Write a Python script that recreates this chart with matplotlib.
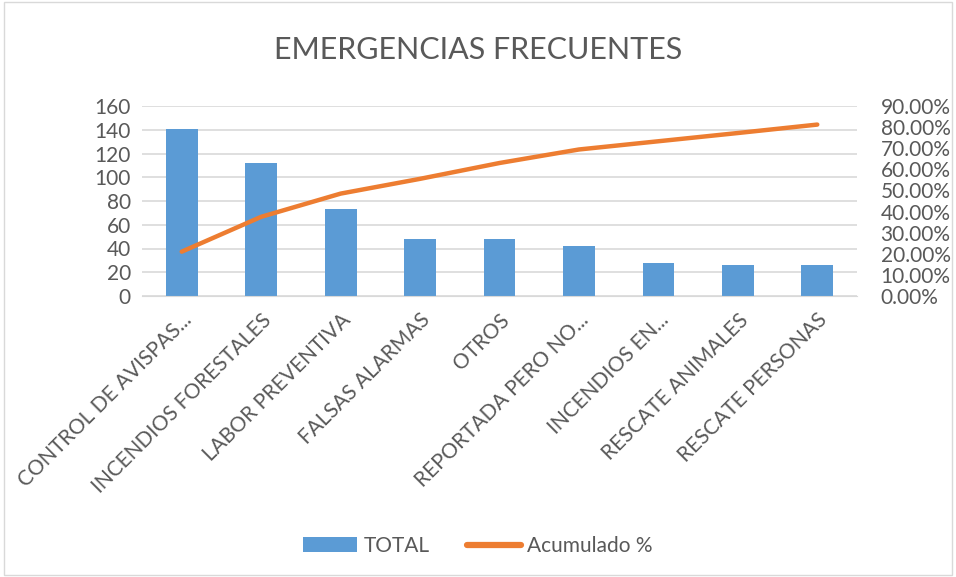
import matplotlib.pyplot as plt
from matplotlib.ticker import FuncFormatter, MultipleLocator
from matplotlib.patches import Rectangle

categorias = ['CONTROL DE AVISPAS...', 'INCENDIOS FORESTALES', 'LABOR PREVENTIVA',
              'FALSAS ALARMAS', 'OTROS', 'REPORTADA PERO NO...', 'INCENDIOS EN...',
              'RESCATE ANIMALES', 'RESCATE PERSONAS']
total = [141, 112, 73, 48, 48, 42, 28, 26, 26]
acumulado = [0.210, 0.375, 0.485, 0.555, 0.630, 0.694, 0.733, 0.772, 0.812]

plt.rcParams['font.family'] = ['Lato', 'DejaVu Sans']
gris = '#595959'
azul = '#5B9BD5'
naranja = '#ED7D31'

fig = plt.figure(figsize=(9.56, 5.77), dpi=100)
ax = fig.add_axes([142 / 956, 1 - 296 / 577, 715 / 956, 190 / 577])

x = range(len(categorias))
ax.bar(x, total, width=0.4, color=azul, label='TOTAL', zorder=2)
ax.set_xlim(-0.5, len(categorias) - 0.5)
ax.set_ylim(0, 160)
ax.yaxis.set_major_locator(MultipleLocator(20))
ax.grid(axis='y', color='#D9D9D9', linewidth=1.2, zorder=0)
ax.set_xticks(list(x))
ax.set_xticklabels(categorias, rotation=45, ha='right', rotation_mode='anchor',
                   fontsize=15, color=gris)
ax.tick_params(axis='both', length=0, colors=gris, labelsize=15)
ax.tick_params(axis='x', pad=10)
ax.tick_params(axis='y', pad=8)
for s in ax.spines.values():
    s.set_visible(False)
ax.spines['bottom'].set_visible(True)
ax.spines['bottom'].set_color('#D9D9D9')

ax2 = ax.twinx()
ax2.plot(x, acumulado, color=naranja, linewidth=3.2, solid_capstyle='round',
         label='Acumulado %', zorder=3)
ax2.set_ylim(0, 0.9)
ax2.yaxis.set_major_locator(MultipleLocator(0.1))
ax2.yaxis.set_major_formatter(FuncFormatter(lambda v, p: f'{v * 100:.2f}%'))
ax2.tick_params(axis='y', length=0, colors=gris, labelsize=15, pad=17)
for s in ax2.spines.values():
    s.set_visible(False)

fig.text(0.5, 1 - 50 / 577, 'EMERGENCIAS FRECUENTES', ha='center', va='center',
         fontsize=22, color=gris)

h1, l1 = ax.get_legend_handles_labels()
h2, l2 = ax2.get_legend_handles_labels()
leg = fig.legend(h1 + h2, l1 + l2, loc='center', bbox_to_anchor=(0.5, 1 - 546 / 577),
                 ncol=2, frameon=False, fontsize=15, labelcolor=gris,
                 handlelength=2.6, columnspacing=1.8, handletextpad=0.3)
leg.get_lines()[0].set_linewidth(4.5)

fig.patches.append(Rectangle((4 / 956, 0.003), 948 / 956, 0.994, transform=fig.transFigure,
                             fill=False, edgecolor='#D9D9D9', linewidth=1))

fig.savefig('out.png', dpi=100)
